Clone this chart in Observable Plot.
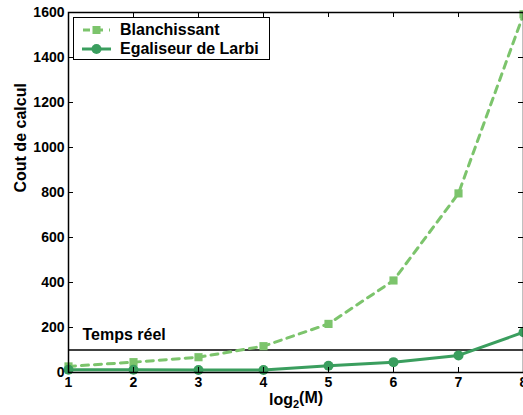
<!DOCTYPE html>
<html><head><meta charset="utf-8">
<script src="https://cdn.jsdelivr.net/npm/d3@7"></script>
<script src="https://cdn.jsdelivr.net/npm/@observablehq/plot@0.6"></script>
<style>
body{margin:0;background:#fff;}
#wrap{position:relative;width:523px;height:415px;overflow:hidden;font-family:"Liberation Sans",Arial,sans-serif;}
.legend{position:absolute;left:73px;top:17px;width:197px;height:43px;border:1.5px solid #000;background:#fff;box-sizing:border-box;}
.row{position:absolute;left:0;height:20px;display:flex;align-items:center;font-weight:bold;font-size:16px;color:#000;}
.row svg{margin-left:8px;margin-right:9px;}
</style></head><body><div id="wrap"></div>
<script>
const xValues = [1, 2, 3, 4, 5, 6, 7, 8];
const blanchissant = [27, 46, 68, 117, 216, 409, 796, 1592];
const egaliseur = [12, 12, 11, 11, 30, 46, 76, 179];
const xTicks = [1, 2, 3, 4, 5, 6, 7, 8];
const yTicks = [0, 200, 400, 600, 800, 1000, 1200, 1400, 1600];
const seriesNames = ["Blanchissant", "Egaliseur de Larbi"];
const realTime = 100;
const realTimeLabel = "Temps réel";
const realTimeLabelY = 169;
const xLabel = "log2(M)";
const yLabel = "Cout de calcul";

const c1 = "#7cc46c", c2 = "#3a9e5e";
const dataB = xValues.map((x, i) => ({x, y: blanchissant[i]}));
const dataE = xValues.map((x, i) => ({x, y: egaliseur[i]}));

const W = 523, H = 415, mL = 68, mR = 0, mT = 12, mB = 43;
const pw = W - mL - mR, ph = H - mT - mB;

const plot = Plot.plot({
  width: W, height: H,
  marginLeft: mL, marginRight: mR, marginTop: mT, marginBottom: mB,
  style: {fontFamily: "'Liberation Sans', Arial, sans-serif", fontSize: "14px", fontWeight: "bold", background: "white", overflow: "visible"},
  x: {domain: [1, 8]},
  y: {domain: [0, 1600]},
  marks: [
    Plot.ruleY([realTime], {stroke: "black", strokeWidth: 1.6}),
    Plot.line(dataB, {x: "x", y: "y", stroke: c1, strokeWidth: 3, strokeDasharray: "7,6"}),
    Plot.dot(dataB, {x: "x", y: "y", symbol: "square", r: 4.6, fill: c1, stroke: "none"}),
    Plot.line(dataE, {x: "x", y: "y", stroke: c2, strokeWidth: 3}),
    Plot.dot(dataE, {x: "x", y: "y", r: 5, fill: c2, stroke: "none"}),
    Plot.text([realTimeLabel], {x: () => 1, y: () => realTimeLabelY, dx: 14, textAnchor: "start", fontSize: 16, fontWeight: "bold", fill: "black"}),
    Plot.tickX(xTicks, {x: d => d, stroke: "black", insetTop: ph - 5}),
    Plot.tickX(xTicks, {x: d => d, stroke: "black", insetBottom: ph - 5}),
    Plot.tickY(yTicks, {y: d => d, stroke: "black", insetRight: pw - 5}),
    Plot.tickY(yTicks, {y: d => d, stroke: "black", insetLeft: pw - 5}),
    Plot.axisX({ticks: xTicks, tickFormat: d => String(d), tickSize: 0, tickPadding: 5, label: null, fill: "black"}),
    Plot.axisY({ticks: yTicks, tickFormat: d => String(d), tickSize: 0, tickPadding: 4, label: null, fill: "black"}),
    Plot.text([xLabel], {frameAnchor: "bottom", dy: 32, fontSize: 16, fontWeight: "bold", fill: "black"}),
    Plot.text([yLabel], {frameAnchor: "left", dx: -48, rotate: -90, fontSize: 16, fontWeight: "bold", fill: "black"}),
    Plot.frame({stroke: "black", strokeWidth: 1.5})
  ]
});

d3.select(plot).selectAll("text").filter(function() { return this.textContent === xLabel; })
  .each(function() {
    const t = d3.select(this);
    t.text(null);
    t.append("tspan").text("log");
    t.append("tspan").attr("dy", "0.3em").attr("font-size", 11).text("2");
    t.append("tspan").attr("dy", "-0.3em").text("(M)");
  });

const wrap = document.getElementById("wrap");
wrap.appendChild(plot);

const legend = document.createElement("div");
legend.className = "legend";
const swatches = [
  `<svg width="29" height="12"><line x1="1" y1="6" x2="28" y2="6" stroke="${c1}" stroke-width="3" stroke-dasharray="7,6"/><rect x="10.5" y="2" width="8" height="8" fill="${c1}"/></svg>`,
  `<svg width="29" height="12"><line x1="0" y1="6" x2="29" y2="6" stroke="${c2}" stroke-width="3"/><circle cx="14.5" cy="6" r="5" fill="${c2}"/></svg>`
];
seriesNames.forEach((name, i) => {
  const row = document.createElement("div");
  row.className = "row";
  row.style.top = (i === 0 ? 2 : 21) + "px";
  row.innerHTML = swatches[i] + `<span>${name}</span>`;
  legend.appendChild(row);
});
wrap.appendChild(legend);
</script>
</body></html>
